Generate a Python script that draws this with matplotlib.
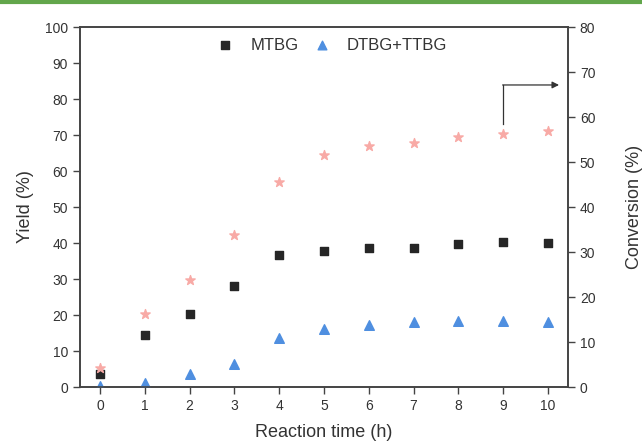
import matplotlib
matplotlib.use("Agg")
import matplotlib.pyplot as plt
from matplotlib.lines import Line2D

plt.rcParams['font.family'] = ['Liberation Sans', 'DejaVu Sans']

# data
time_h = [0, 1, 2, 3, 4, 5, 6, 7, 8, 9, 10]
mtbg = [3.5, 14.5, 20.2, 28.1, 36.7, 37.8, 38.5, 38.7, 39.6, 40.2, 40.0]
dtbg_ttbg = [0.3, 1.2, 3.7, 6.3, 13.7, 16.0, 17.2, 18.1, 18.3, 18.3, 18.1]
conversion = [4.2, 16.3, 23.8, 33.8, 45.5, 51.6, 53.6, 54.3, 55.6, 56.2, 57.0]

txt = '#333333'
spine = '#444444'

fig = plt.figure(figsize=(6.42, 4.45), dpi=100)
ax = fig.add_axes([0.1246, 0.1303, 0.7601, 0.809])
ax2 = ax.twinx()

# green rule on top of the figure
fig.add_artist(Line2D([0, 1], [0.9955, 0.9955], transform=fig.transFigure,
                      color='#62a64b', lw=3))

ax.scatter(time_h, mtbg, marker='s', s=40, color='#262626', label='MTBG', zorder=3)
ax.scatter(time_h, dtbg_ttbg, marker='^', s=48, color='#4f8fe0', label='DTBG+TTBG', zorder=3)
ax2.scatter(time_h, conversion, marker='*', s=50, color='#f8aaa6', zorder=3)

ax.set_xlim(-0.45, 10.45)
ax.set_ylim(0, 100)
ax2.set_ylim(0, 80)
ax.set_xticks(range(0, 11))
ax.set_yticks(range(0, 101, 10))
ax2.set_yticks(range(0, 81, 10))

for a in (ax, ax2):
    for s in a.spines.values():
        s.set_color(spine)
        s.set_linewidth(1.2)
    a.tick_params(direction='out', length=5, width=1, color=spine,
                  labelsize=10, labelcolor=txt)

ax.set_xlabel('Reaction time (h)', fontsize=13, color=txt, labelpad=8)
ax.set_ylabel('Yield (%)', fontsize=13, color=txt, labelpad=8)
ax2.set_ylabel('Conversion (%)', fontsize=13, color=txt, labelpad=22)

# arrow pointing to the conversion axis
ax.plot([9.0, 9.0], [73.0, 83.9], color='#333333', lw=0.9)
ax.annotate('', xy=(10.25, 83.9), xytext=(8.99, 83.9),
            arrowprops=dict(arrowstyle='-|>', color='#333333', lw=0.9,
                            mutation_scale=10, shrinkA=0, shrinkB=0))

leg = ax.legend(loc='upper center', bbox_to_anchor=(0.52, 1.012), ncol=2,
                frameon=False, fontsize=12, handlelength=0.6, handletextpad=1.2,
                columnspacing=1.1, markerscale=0.9)
for t in leg.get_texts():
    t.set_color(txt)

fig.savefig('out.png', dpi=100)
